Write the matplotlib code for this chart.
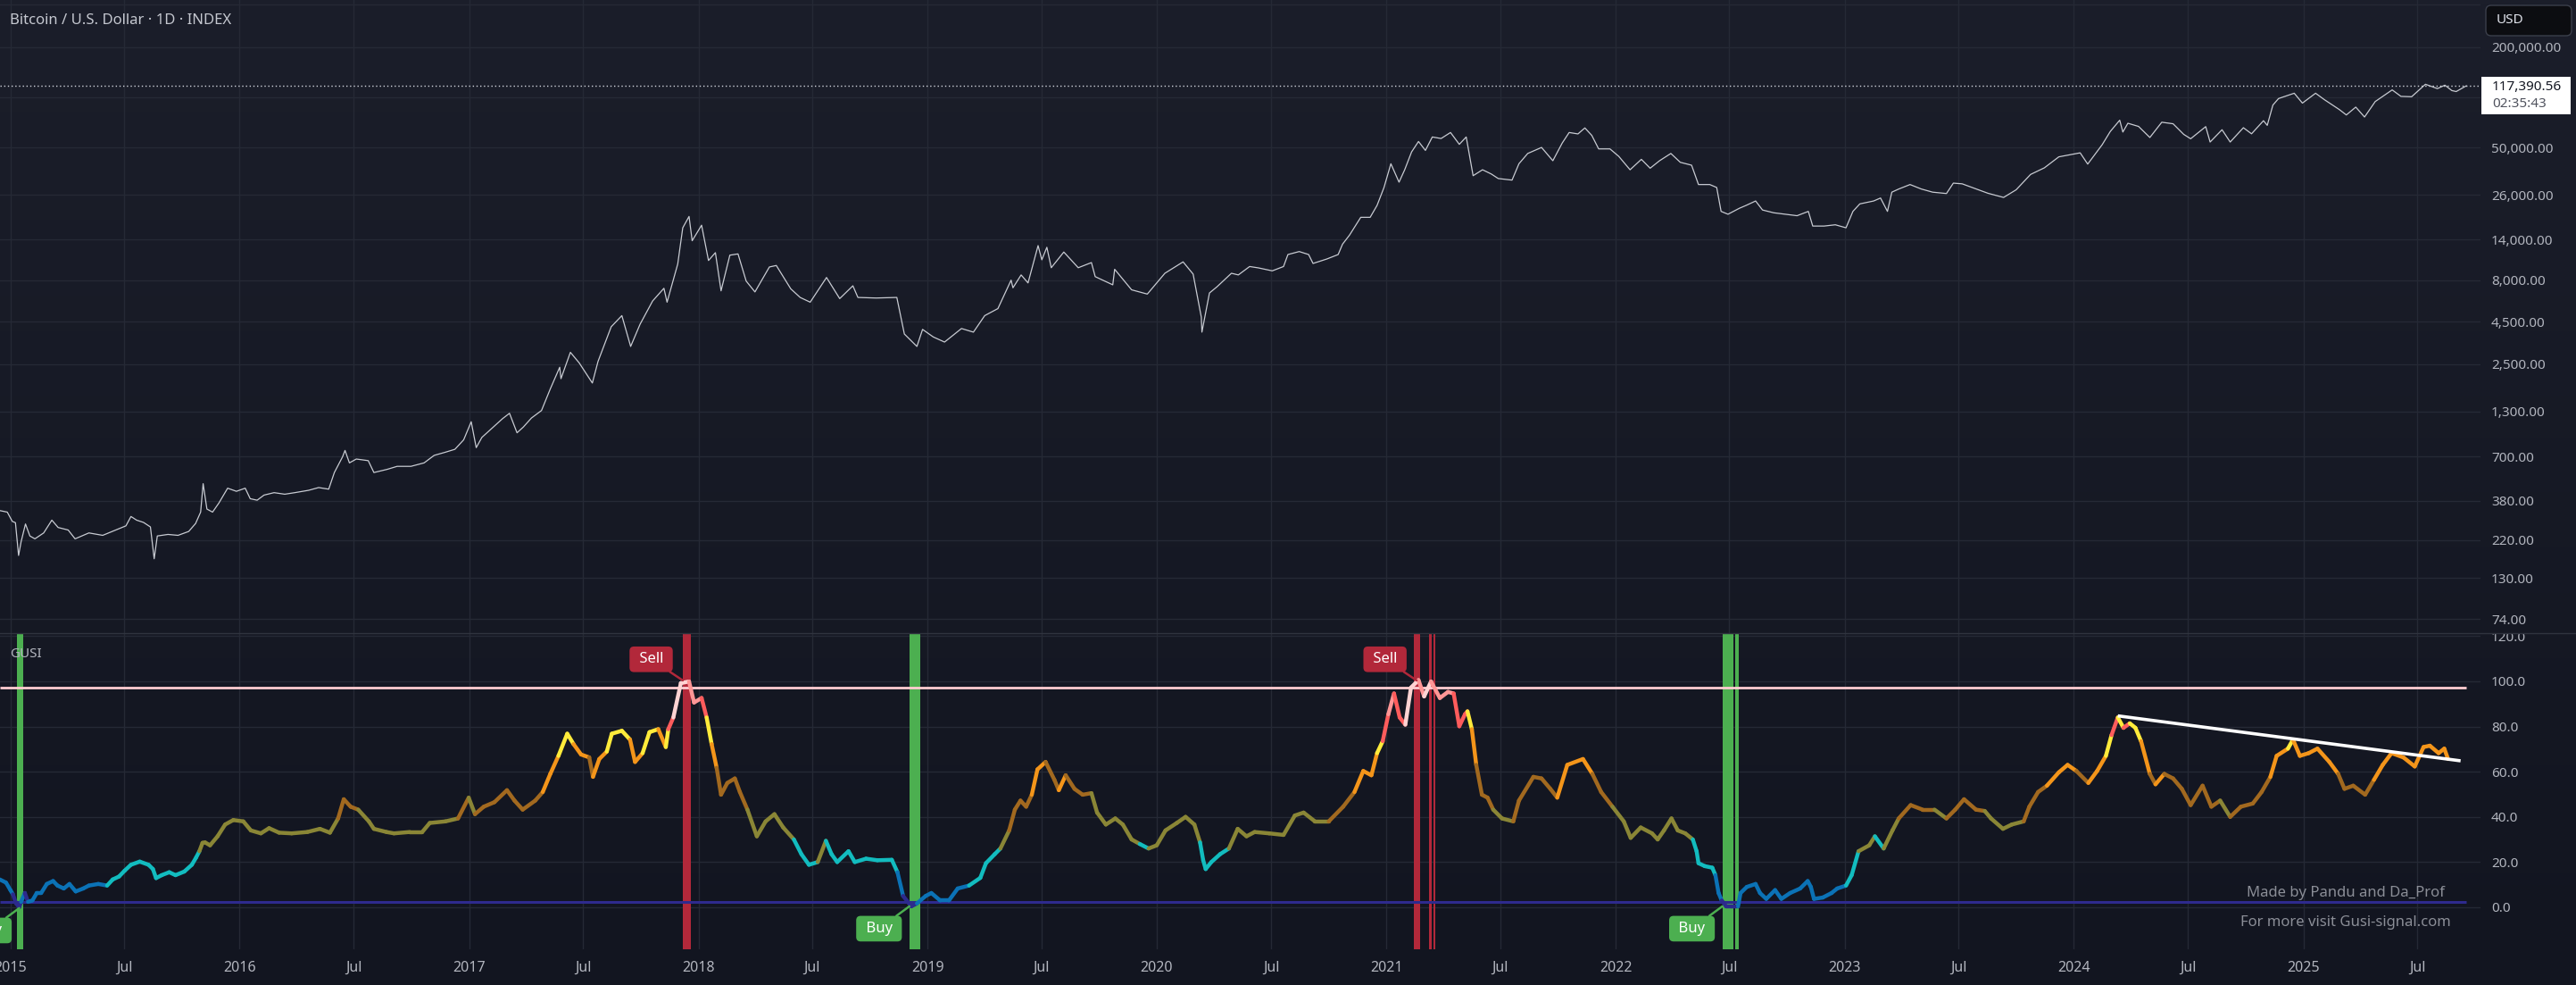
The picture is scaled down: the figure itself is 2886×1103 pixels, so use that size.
import numpy as np
import pandas as pd
import matplotlib
matplotlib.use("Agg")
import matplotlib.pyplot as plt
import matplotlib.dates as mdates
import matplotlib.ticker as mticker
from matplotlib.collections import LineCollection
from matplotlib.colors import ListedColormap, BoundaryNorm, LinearSegmentedColormap
from matplotlib.transforms import Bbox, IdentityTransform
from matplotlib.lines import Line2D
from matplotlib.patches import FancyBboxPatch, Rectangle

plt.rcParams['font.family'] = ['Noto Sans', 'DejaVu Sans']

# -----------------------------
# DATA
# -----------------------------
price_dates = [
    "2014-12-15", "2014-12-27", "2015-01-04", "2015-01-09", "2015-01-14", "2015-01-18", "2015-01-25",
    "2015-02-01", "2015-02-09", "2015-02-23", "2015-03-08", "2015-03-18", "2015-04-03", "2015-04-14",
    "2015-05-06", "2015-05-28", "2015-06-18", "2015-07-04", "2015-07-12", "2015-07-21", "2015-08-01",
    "2015-08-12", "2015-08-18", "2015-08-23", "2015-09-09", "2015-09-25", "2015-10-12", "2015-10-23",
    "2015-10-31", "2015-11-04", "2015-11-10", "2015-11-19", "2015-11-29", "2015-12-13", "2015-12-27",
    "2016-01-10", "2016-01-18", "2016-01-29", "2016-02-09", "2016-02-25", "2016-03-13", "2016-03-29",
    "2016-04-20", "2016-05-06", "2016-05-22", "2016-05-31", "2016-06-13", "2016-06-17", "2016-06-24",
    "2016-07-05", "2016-07-16", "2016-07-24", "2016-08-02", "2016-08-23", "2016-09-08", "2016-09-30",
    "2016-10-21", "2016-11-06", "2016-11-23", "2016-12-09", "2016-12-23", "2017-01-04", "2017-01-12",
    "2017-01-21", "2017-02-07", "2017-02-23", "2017-03-06", "2017-03-18", "2017-03-28", "2017-04-10",
    "2017-04-26", "2017-05-10", "2017-05-25", "2017-05-27", "2017-06-11", "2017-06-25", "2017-07-16",
    "2017-07-25", "2017-08-15", "2017-09-01", "2017-09-15", "2017-09-30", "2017-10-20", "2017-11-07",
    "2017-11-12", "2017-11-29", "2017-12-07", "2017-12-17", "2017-12-22", "2018-01-06", "2018-01-17",
    "2018-01-28", "2018-02-06", "2018-02-20", "2018-03-05", "2018-03-18", "2018-04-01", "2018-04-24",
    "2018-05-05", "2018-05-28", "2018-06-12", "2018-06-28", "2018-07-24", "2018-08-14", "2018-09-04",
    "2018-09-12", "2018-10-11", "2018-11-13", "2018-11-25", "2018-12-15", "2018-12-24", "2019-01-10",
    "2019-01-28", "2019-02-24", "2019-03-15", "2019-04-02", "2019-04-23", "2019-05-14", "2019-05-17",
    "2019-05-30", "2019-06-10", "2019-06-26", "2019-07-02", "2019-07-10", "2019-07-17", "2019-08-06",
    "2019-08-29", "2019-09-19", "2019-09-25", "2019-10-23", "2019-10-26", "2019-11-22", "2019-12-17",
    "2020-01-14", "2020-02-12", "2020-02-28", "2020-03-12", "2020-03-13", "2020-03-25", "2020-04-06",
    "2020-04-29", "2020-05-10", "2020-05-28", "2020-06-11", "2020-07-03", "2020-07-21", "2020-07-28",
    "2020-08-15", "2020-08-30", "2020-09-06", "2020-09-28", "2020-10-16", "2020-10-23", "2020-11-03",
    "2020-11-21", "2020-12-06", "2020-12-17", "2020-12-28", "2021-01-08", "2021-01-21", "2021-01-30",
    "2021-02-10", "2021-02-21", "2021-03-04", "2021-03-15", "2021-03-29", "2021-04-13", "2021-04-27",
    "2021-05-08", "2021-05-19", "2021-06-03", "2021-06-17", "2021-06-28", "2021-07-20", "2021-07-31",
    "2021-08-14", "2021-09-05", "2021-09-23", "2021-10-08", "2021-10-19", "2021-11-02", "2021-11-13",
    "2021-11-24", "2021-12-05", "2021-12-23", "2022-01-06", "2022-01-24", "2022-02-11", "2022-02-25",
    "2022-03-12", "2022-03-30", "2022-04-14", "2022-05-02", "2022-05-13", "2022-05-31", "2022-06-11",
    "2022-06-18", "2022-06-29", "2022-07-17", "2022-07-28", "2022-08-12", "2022-08-23", "2022-09-10",
    "2022-09-28", "2022-10-17", "2022-11-04", "2022-11-11", "2022-11-29", "2022-12-17", "2023-01-03",
    "2023-01-14", "2023-01-25", "2023-02-16", "2023-02-27", "2023-03-10", "2023-03-17", "2023-03-28",
    "2023-04-15", "2023-05-03", "2023-05-21", "2023-06-12", "2023-06-23", "2023-07-07", "2023-08-17",
    "2023-09-11", "2023-10-01", "2023-10-24", "2023-11-15", "2023-12-08", "2024-01-11", "2024-01-23",
    "2024-02-15", "2024-02-28", "2024-03-14", "2024-03-19", "2024-03-27", "2024-04-13", "2024-05-01",
    "2024-05-20", "2024-06-07", "2024-06-24", "2024-07-05", "2024-07-29", "2024-08-05", "2024-08-24",
    "2024-09-06", "2024-09-27", "2024-10-10", "2024-10-29", "2024-11-04", "2024-11-13", "2024-11-22",
    "2024-12-17", "2024-12-30", "2025-01-20", "2025-02-03", "2025-02-27", "2025-03-10", "2025-03-25",
    "2025-04-08", "2025-04-25", "2025-05-22", "2025-06-05", "2025-06-22", "2025-07-14", "2025-08-02",
    "2025-08-14", "2025-08-25", "2025-09-01", "2025-09-10", "2025-09-17",
]
price_values = [
    331, 324, 285, 280, 178, 215, 275,
    233, 224, 243, 290, 262, 253, 224,
    243, 235, 253, 268, 305, 290, 281,
    264, 170, 233, 238, 235, 248, 277,
    324, 480, 338, 324, 367, 451, 432,
    451, 390, 382, 410, 424, 415, 424,
    438, 455, 445, 560, 695, 760, 640,
    675, 666, 660, 560, 585, 610, 610,
    640, 710, 740, 772, 880, 1130, 790,
    910, 1040, 1180, 1270, 970, 1050, 1190,
    1320, 1780, 2400, 2050, 2950, 2550, 1930,
    2600, 4200, 4900, 3200, 4350, 6000, 7150,
    5900, 10000, 16500, 19300, 13800, 17100, 10500,
    11700, 6900, 11300, 11500, 7900, 6800, 9600,
    9800, 7100, 6300, 5900, 8300, 6200, 7400,
    6300, 6250, 6300, 3800, 3200, 4050, 3650,
    3400, 4100, 3900, 4900, 5400, 8000, 7200,
    8600, 7700, 12900, 10600, 12600, 9500, 11800,
    9500, 10200, 8400, 7500, 9300, 7000, 6600,
    8800, 10300, 8700, 4800, 3900, 6700, 7300,
    8800, 8600, 9660, 9480, 9100, 9660, 11400,
    11880, 11400, 10080, 10720, 11400, 13160, 14890,
    19070, 19070, 22490, 28780, 40000, 31000, 36800,
    47100, 54400, 48100, 57900, 56700, 61600, 52300,
    57900, 33900, 36800, 34700, 32600, 31900, 40000,
    46100, 50100, 41700, 53300, 61600, 60400, 65600,
    59200, 49100, 49100, 44300, 36800, 42500, 37600,
    41700, 46100, 40800, 39200, 30000, 30000, 28800,
    20700, 19900, 21600, 22500, 23900, 21100, 20300,
    19900, 19500, 20700, 16900, 16900, 17200, 16500,
    20700, 22960, 23900, 24900, 20700, 27000, 28200,
    30000, 28200, 27000, 26500, 30600, 30300, 26600,
    25100, 27900, 34500, 37800, 44000, 46500, 39800,
    52000, 62500, 73000, 62000, 70000, 67000, 57500,
    71000, 69500, 60000, 56500, 66800, 54000, 64000,
    54000, 65800, 60500, 72500, 68000, 90000, 98500,
    106000, 92500, 106000, 97000, 84500, 78500, 87500,
    76300, 94500, 111000, 101500, 101000, 120000, 113000,
    118500, 110000, 108500, 113500, 117390.56,
]
last_price = 117390.56
countdown = "02:35:43"

gusi_dates = [
    "2014-12-15", "2014-12-25", "2015-01-01", "2015-01-05", "2015-01-10", "2015-01-15", "2015-01-18",
    "2015-01-24", "2015-01-29", "2015-02-05", "2015-02-12", "2015-02-19", "2015-02-28", "2015-03-10",
    "2015-03-17", "2015-03-27", "2015-04-05", "2015-04-15", "2015-04-27", "2015-05-06", "2015-05-21",
    "2015-06-04", "2015-06-13", "2015-06-23", "2015-07-02", "2015-07-12", "2015-07-26", "2015-08-09",
    "2015-08-16", "2015-08-21", "2015-08-30", "2015-09-11", "2015-09-21", "2015-10-05", "2015-10-17",
    "2015-10-24", "2015-10-29", "2015-11-03", "2015-11-07", "2015-11-15", "2015-11-27", "2015-12-09",
    "2015-12-22", "2016-01-07", "2016-01-19", "2016-02-04", "2016-02-17", "2016-03-04", "2016-03-24",
    "2016-04-18", "2016-05-08", "2016-05-24", "2016-06-06", "2016-06-15", "2016-06-26", "2016-07-08",
    "2016-07-25", "2016-08-02", "2016-08-22", "2016-09-03", "2016-09-28", "2016-10-18", "2016-10-30",
    "2016-11-24", "2016-12-14", "2016-12-31", "2017-01-10", "2017-01-24", "2017-02-10", "2017-03-02",
    "2017-03-14", "2017-03-27", "2017-04-16", "2017-04-28", "2017-05-10", "2017-05-23", "2017-06-06",
    "2017-06-16", "2017-06-28", "2017-07-11", "2017-07-17", "2017-07-27", "2017-08-08", "2017-08-16",
    "2017-09-01", "2017-09-14", "2017-09-22", "2017-10-04", "2017-10-15", "2017-10-29", "2017-11-10",
    "2017-11-14", "2017-11-22", "2017-12-04", "2017-12-17", "2017-12-25", "2018-01-06", "2018-01-14",
    "2018-01-22", "2018-01-30", "2018-02-06", "2018-02-16", "2018-02-28", "2018-03-08", "2018-03-20",
    "2018-04-04", "2018-04-18", "2018-05-02", "2018-05-16", "2018-06-02", "2018-06-14", "2018-06-26",
    "2018-07-10", "2018-07-23", "2018-08-01", "2018-08-10", "2018-08-28", "2018-09-07", "2018-09-25",
    "2018-10-13", "2018-11-05", "2018-11-14", "2018-11-23", "2018-12-06", "2018-12-15", "2018-12-29",
    "2019-01-07", "2019-01-21", "2019-02-04", "2019-02-18", "2019-03-08", "2019-03-26", "2019-04-04",
    "2019-04-18", "2019-04-27", "2019-05-11", "2019-05-20", "2019-05-29", "2019-06-07", "2019-06-16",
    "2019-06-25", "2019-07-08", "2019-07-22", "2019-07-29", "2019-08-09", "2019-08-23", "2019-09-05",
    "2019-09-19", "2019-09-28", "2019-10-12", "2019-10-27", "2019-11-08", "2019-11-22", "2019-12-05",
    "2019-12-19", "2020-01-01", "2020-01-15", "2020-02-02", "2020-02-16", "2020-03-01", "2020-03-10",
    "2020-03-15", "2020-03-19", "2020-03-28", "2020-04-11", "2020-04-25", "2020-05-09", "2020-05-23",
    "2020-06-05", "2020-06-28", "2020-07-21", "2020-08-08", "2020-08-22", "2020-09-09", "2020-10-01",
    "2020-10-24", "2020-11-11", "2020-11-25", "2020-12-08", "2020-12-17", "2020-12-26", "2021-01-04",
    "2021-01-13", "2021-01-22", "2021-01-31", "2021-02-09", "2021-02-21", "2021-03-02", "2021-03-13",
    "2021-03-27", "2021-04-09", "2021-04-18", "2021-04-27", "2021-05-06", "2021-05-10", "2021-05-17",
    "2021-05-24", "2021-06-02", "2021-06-11", "2021-06-20", "2021-07-04", "2021-07-22", "2021-07-31",
    "2021-08-23", "2021-09-05", "2021-09-19", "2021-09-30", "2021-10-16", "2021-11-10", "2021-11-25",
    "2021-12-09", "2021-12-27", "2022-01-14", "2022-01-25", "2022-02-10", "2022-02-28", "2022-03-09",
    "2022-03-19", "2022-03-31", "2022-04-10", "2022-04-22", "2022-05-04", "2022-05-10", "2022-05-13",
    "2022-05-23", "2022-06-04", "2022-06-09", "2022-06-14", "2022-06-19", "2022-06-26", "2022-07-05",
    "2022-07-15", "2022-07-19", "2022-07-29", "2022-08-12", "2022-08-19", "2022-08-29", "2022-09-12",
    "2022-09-22", "2022-10-06", "2022-10-22", "2022-11-03", "2022-11-08", "2022-11-13", "2022-11-27",
    "2022-12-11", "2022-12-20", "2023-01-03", "2023-01-12", "2023-01-23", "2023-02-09", "2023-02-18",
    "2023-03-04", "2023-03-18", "2023-03-28", "2023-04-16", "2023-05-05", "2023-05-24", "2023-06-12",
    "2023-06-26", "2023-07-10", "2023-07-29", "2023-08-12", "2023-08-22", "2023-09-10", "2023-09-24",
    "2023-10-13", "2023-10-22", "2023-11-05", "2023-11-19", "2023-12-08", "2023-12-22", "2024-01-05",
    "2024-01-24", "2024-02-07", "2024-02-21", "2024-03-01", "2024-03-11", "2024-03-20", "2024-03-30",
    "2024-04-08", "2024-04-17", "2024-05-01", "2024-05-10", "2024-05-24", "2024-06-07", "2024-06-21",
    "2024-07-05", "2024-07-24", "2024-08-07", "2024-08-21", "2024-09-06", "2024-09-23", "2024-10-12",
    "2024-10-26", "2024-11-09", "2024-11-19", "2024-12-07", "2024-12-15", "2024-12-26", "2025-01-09",
    "2025-01-23", "2025-02-11", "2025-02-25", "2025-03-07", "2025-03-21", "2025-04-09", "2025-04-23",
    "2025-05-07", "2025-05-21", "2025-06-09", "2025-06-27", "2025-07-11", "2025-07-21", "2025-08-04",
    "2025-08-13", "2025-08-19",
]
gusi_values = [
    12.3, 10.9, 7.6, 5.7, 1.7, 0.0, 2.4,
    6.3, 2.4, 3.0, 6.3, 6.3, 10.3, 11.6,
    9.6, 8.3, 10.3, 7.0, 8.3, 9.6, 10.3,
    9.6, 12.3, 13.6, 16.2, 18.8, 20.2, 18.8,
    16.9, 12.9, 14.2, 15.5, 14.2, 15.8, 18.8,
    22.1, 24.8, 28.5, 28.7, 27.4, 31.4, 36.6,
    38.6, 38.0, 34.0, 32.7, 35.0, 33.0, 32.7,
    33.3, 34.7, 33.0, 39.3, 47.8, 44.5, 43.2,
    38.0, 34.7, 33.3, 32.7, 33.3, 33.3, 37.3,
    38.0, 39.3, 48.5, 41.2, 44.5, 46.5, 51.8,
    47.2, 43.2, 47.2, 51.0, 59.0, 67.0, 76.8,
    72.2, 67.6, 66.3, 57.7, 65.6, 68.9, 76.8,
    78.1, 74.2, 64.3, 68.2, 77.5, 78.8, 70.9,
    78.8, 84.0, 99.2, 99.9, 90.6, 92.6, 84.0,
    72.2, 61.7, 49.8, 55.0, 57.0, 51.0, 43.2,
    31.4, 38.0, 41.2, 35.3, 30.0, 23.5, 18.8,
    20.0, 29.4, 23.5, 20.0, 24.8, 20.0, 21.5,
    20.8, 21.0, 15.5, 5.0, 0.4, 1.7, 5.0,
    6.3, 3.0, 3.0, 8.3, 9.6, 13.0, 19.5,
    23.5, 26.0, 34.0, 43.2, 47.2, 44.5, 49.8,
    61.0, 64.3, 56.4, 51.8, 58.4, 52.4, 49.8,
    50.5, 41.9, 36.6, 39.3, 36.6, 30.0, 28.0,
    26.0, 27.4, 34.0, 37.3, 40.0, 36.6, 28.7,
    20.8, 16.9, 20.0, 23.5, 26.0, 34.7, 31.4,
    33.3, 32.7, 32.0, 40.6, 41.9, 38.0, 38.0,
    44.5, 51.0, 60.3, 58.4, 68.2, 73.5, 85.4,
    94.6, 84.0, 80.8, 97.2, 100.5, 93.3, 99.9,
    92.6, 95.3, 94.6, 80.1, 85.4, 86.7, 78.8,
    63.0, 49.8, 48.5, 43.2, 39.3, 38.0, 47.2,
    57.7, 57.0, 52.4, 48.5, 63.0, 65.6, 59.0,
    51.0, 44.5, 38.0, 30.7, 35.3, 32.7, 30.0,
    34.0, 39.3, 34.0, 32.7, 30.0, 24.8, 19.5,
    18.2, 17.5, 14.2, 6.3, 3.0, 0.4, 0.4,
    0.4, 6.3, 9.0, 10.3, 6.3, 3.7, 7.6,
    3.7, 6.3, 8.3, 11.6, 9.0, 3.7, 4.3,
    6.3, 8.3, 9.6, 14.2, 24.8, 27.4, 31.4,
    26.0, 34.0, 39.3, 45.2, 43.2, 43.2, 39.3,
    43.2, 47.8, 43.2, 42.6, 39.3, 34.7, 36.6,
    38.0, 44.5, 51.0, 53.8, 59.7, 63.0, 60.3,
    55.0, 60.3, 67.0, 76.2, 84.0, 79.4, 81.4,
    79.4, 73.5, 59.0, 54.4, 59.0, 57.0, 52.4,
    45.2, 53.8, 44.5, 47.2, 40.0, 44.5, 45.9,
    51.0, 57.7, 67.0, 70.2, 74.2, 67.0, 68.2,
    70.2, 64.3, 59.0, 52.4, 53.8, 49.8, 56.4,
    63.0, 68.2, 66.3, 62.3, 70.9, 71.5, 68.2,
    70.2, 65.6,
]

# colour bands of the GUSI line
gusi_bounds = [-100, 3, 12, 27, 42, 58, 72, 80, 88, 96, 200]
gusi_colors = ["#2c2a8c", "#0b72b6", "#12bcbf", "#8a8636", "#a2691f",
               "#f4951a", "#ffeb3b", "#ff5c5c", "#ff9696", "#ffd3d3"]

sell_level = 97.0
buy_level = 2.4
level_start, level_end = "2014-12-15", "2025-09-17"

trend_dates = ["2024-03-11", "2025-09-08"]
trend_values = [84.7, 64.8]

buy_zones = [("2015-01-12", "2015-01-21"), ("2018-12-03", "2018-12-20"),
             ("2022-06-20", "2022-07-08"), ("2022-07-10", "2022-07-16")]
sell_zones = [("2017-12-07", "2017-12-20"), ("2021-02-14", "2021-02-24"),
              ("2021-03-10", "2021-03-14"), ("2021-03-17", "2021-03-20")]

signal_kinds = ["Buy", "Sell", "Buy", "Sell", "Buy"]
signal_dates = ["2015-01-15", "2017-12-07", "2018-12-03", "2021-02-18", "2022-06-20"]
signal_values = [-0.4, 100.4, 0.4, 100.4, 0.4]

price_ticks = [74, 130, 220, 380, 700, 1300, 2500, 4500, 8000, 14000, 26000, 50000, 100000, 200000, 360000]
gusi_ticks = [0, 20, 40, 60, 80, 100, 120]

# -----------------------------
# LAYOUT
# -----------------------------
W, H = 2886, 1103
fig = plt.figure(figsize=(W / 100, H / 100), dpi=100)


def fx(px):
    return px / W


def fy(py):
    return 1 - py / H


bg = fig.add_axes([0, 0, 1, 1])
bg.set_zorder(-5)
grad = np.linspace(0, 1, 256).reshape(-1, 1)
bg.imshow(grad, aspect="auto", extent=[0, 1, 0, 1], origin="upper",
          cmap=LinearSegmentedColormap.from_list("bg", ["#1b1e2a", "#121520"]))
bg.axis("off")

ax_top = fig.add_axes([0, fy(709), fx(2779), 709 / H])
ax_bot = fig.add_axes([0, fy(1063), fx(2779), (1063 - 709) / H])

grid_c = "#252935"
text_c = "#b2b5be"
t0 = pd.Timestamp("2015-01-01")
xlim = (t0 - pd.Timedelta(days=16.6), t0 + pd.Timedelta(days=3934.7))
date_ticks = pd.date_range("2015-01-01", "2025-07-01", freq="6MS")
date_labels = [str(d.year) if d.month == 1 else "Jul" for d in date_ticks]

for ax in (ax_top, ax_bot):
    ax.set_facecolor("none")
    for s in ax.spines.values():
        s.set_visible(False)
    ax.set_xlim(xlim)
    ax.set_xticks(date_ticks)
    ax.grid(True, color=grid_c, lw=1)
    ax.set_axisbelow(True)
    ax.yaxis.tick_right()
    ax.tick_params(axis="y", length=0, pad=8.6, labelsize=11, labelcolor=text_c)

# -----------------------------
# PRICE PANE
# -----------------------------
ax_top.plot(pd.to_datetime(price_dates), price_values, color="#c8cbd2", lw=0.9, zorder=3)
ax_top.set_yscale("log")
ax_top.set_ylim(60.8, 384600)
ax_top.yaxis.set_minor_locator(mticker.NullLocator())
ax_top.set_yticks(price_ticks)
ax_top.set_yticklabels(["" if v in (100000, 360000) else f"{v:,.2f}" for v in price_ticks])
ax_top.tick_params(axis="x", length=0, labelbottom=False)
ax_top.axhline(last_price, color="#d1d4dc", lw=1, ls=(0, (1, 2)), zorder=2)

# -----------------------------
# GUSI PANE
# -----------------------------
gx = mdates.date2num(pd.to_datetime(gusi_dates))
gy = np.array(gusi_values)
pts = np.column_stack([gx, gy]).reshape(-1, 1, 2)
segs = np.concatenate([pts[:-1], pts[1:]], axis=1)
cmap = ListedColormap(gusi_colors)
norm = BoundaryNorm(gusi_bounds, cmap.N)
lc = LineCollection(segs, cmap=cmap, norm=norm, linewidths=3.2, zorder=4,
                    capstyle="round", joinstyle="round")
lc.set_array(gy[1:])
ax_bot.add_collection(lc)

for a, b in buy_zones:
    ax_bot.axvspan(pd.Timestamp(a), pd.Timestamp(b), color="#4caf50", lw=0, zorder=1)
for a, b in sell_zones:
    ax_bot.axvspan(pd.Timestamp(a), pd.Timestamp(b), color="#b2283a", lw=0, zorder=1)

ax_bot.hlines(sell_level, pd.Timestamp(level_start), pd.Timestamp(level_end), color="#ffcdd2", lw=2, zorder=3)
ax_bot.hlines(buy_level, pd.Timestamp(level_start), pd.Timestamp(level_end), color="#2e2a8e", lw=2.2, zorder=3)
ax_bot.plot(pd.to_datetime(trend_dates), trend_values, color="white", lw=2.6, zorder=5,
            solid_capstyle="butt")

ax_bot.set_ylim(-18.6, 121.3)
ax_bot.set_yticks(gusi_ticks)
ax_bot.set_yticklabels([f"{v:.1f}" for v in gusi_ticks])
ax_bot.set_xticklabels(date_labels)
ax_bot.tick_params(axis="x", length=0, pad=9.4, labelsize=11.5, labelcolor=text_c)
for lbl, txt in zip(ax_bot.get_xticklabels(), date_labels):
    if txt != "Jul":
        lbl.set_fontweight("bold")
clip = Bbox.from_extents(0, 0, W, H - 709)
for lbl in ax_bot.get_yticklabels():
    lbl.set_clip_on(True)
    lbl.set_clip_box(clip)

for kind, d, v in zip(signal_kinds, signal_dates, signal_values):
    c = "#4caf50" if kind == "Buy" else "#b2283a"
    off = (-24.5, -18.0) if kind == "Buy" else (-25.5, 17.0)
    ax_bot.annotate(f" {kind} ", xy=(mdates.date2num(pd.Timestamp(d)), v), xytext=off,
                    textcoords="offset points", ha="center", va="center",
                    color="white", fontsize=12, fontweight="bold", zorder=7,
                    bbox=dict(boxstyle="round,pad=0.38,rounding_size=0.3", fc=c, ec="none"),
                    arrowprops=dict(arrowstyle="-", color=c, lw=1.8, shrinkA=0, shrinkB=0),
                    annotation_clip=False)

# -----------------------------
# TEXTS AND OVERLAYS
# -----------------------------
fig.add_artist(Line2D([0, W], [H - 709, H - 709], transform=IdentityTransform(), color="#30343f", lw=1))

fig.text(fx(11), fy(23), "Bitcoin / U.S. Dollar · 1D · INDEX", color="#c5c8d0", fontsize=12, va="center")
fig.text(fx(11), fy(733), "GUSI", color=text_c, fontsize=11, va="center")
fig.text(fx(2628), fy(1000), "Made by Pandu and Da_Prof", color="#8b8e97", fontsize=12,
         ha="center", va="center")
fig.text(fx(2628), fy(1033), "For more visit Gusi-signal.com", color="#8b8e97", fontsize=12,
         ha="center", va="center")

fig.add_artist(Rectangle((2780, H - 128), 100, 42, transform=IdentityTransform(),
                         fc="white", ec="none", zorder=8))
fig.text(fx(2792), fy(97), f"{last_price:,.2f}", color="#131722", fontsize=11, va="center", zorder=9)
fig.text(fx(2792), fy(116), countdown, color="#50535e", fontsize=11, va="center", zorder=9)

fig.add_artist(FancyBboxPatch((2785, H - 40), 96, 34, boxstyle="round,pad=0,rounding_size=6",
                              transform=IdentityTransform(), fc="#0c0d11", ec="#3b3f4b", lw=1, zorder=8))
fig.text(fx(2797), fy(23), "USD", color="#e0e3eb", fontsize=11, fontweight="bold", va="center", zorder=9)

fig.savefig("out.png", dpi=100)
